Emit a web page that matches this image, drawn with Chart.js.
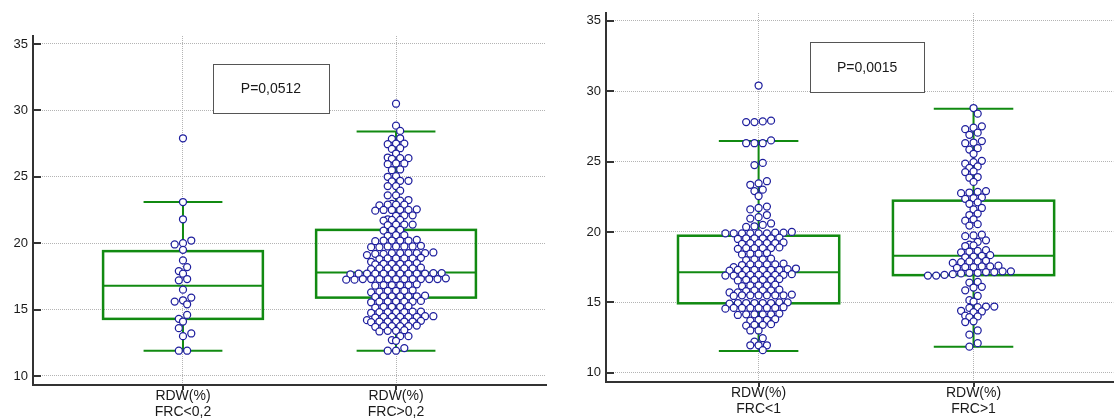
<!DOCTYPE html>
<html>
<head>
<meta charset="utf-8">
<script src="https://cdn.jsdelivr.net/npm/chart.js@4.4.1/dist/chart.umd.min.js"></script>
<style>
  html, body { margin: 0; padding: 0; background: #fff; }
  .panel { position: absolute; top: 0; height: 419px; }
  #leftPanel { left: 0; width: 556px; }
  #rightPanel { left: 560px; width: 558px; }
</style>
</head>
<body>
<div class="panel" id="leftPanel"><canvas id="leftChart" width="556" height="419"></canvas></div>
<div class="panel" id="rightPanel"><canvas id="rightChart" width="558" height="419"></canvas></div>
<script>
// ---- data ----
const yTicks = [10, 15, 20, 25, 30, 35];

const leftLabels = [["RDW(%)", "FRC<0,2"], ["RDW(%)", "FRC>0,2"]];
const rightLabels = [["RDW(%)", "FRC<1"], ["RDW(%)", "FRC>1"]];

const leftPValue = "P=0,0512";
const rightPValue = "P=0,0015";

// box plot stats per group: whisker low, Q1, median, Q3, whisker high
const leftLow = [11.9, 11.9];
const leftQ1 = [14.3, 15.9];
const leftMedian = [16.8, 17.8];
const leftQ3 = [19.4, 21.0];
const leftHigh = [23.1, 28.4];

const rightLow = [11.55, 11.85];
const rightQ1 = [14.93, 16.93];
const rightMedian = [17.13, 18.3];
const rightQ3 = [19.73, 22.22];
const rightHigh = [26.46, 28.75];

// individual observations (RDW %)
const frcUnder02 = [27.9, 23.1, 21.8, 20.2, 20.0, 19.9, 19.5, 18.7, 18.2, 17.9, 17.7, 17.3, 17.2,
  16.5, 15.9, 15.7, 15.6, 15.4, 14.6, 14.3, 14.1, 13.6, 13.2, 13.0, 11.9, 11.9];

const frcOver02 = [30.5, 28.85, 28.45, 27.9, 27.85, 27.5, 27.5, 27.45, 27.15, 27.1, 26.75,
  26.4, 26.4, 26.35, 26.45, 26.0, 26.0, 25.95, 25.55, 25.5, 25.05, 25.0, 24.7, 24.7, 24.65,
  24.3, 24.3, 23.95, 23.6, 23.6, 23.25, 23.2,
  22.9, 22.9, 22.85, 22.9, 22.95, 22.5, 22.5, 22.45, 22.5, 22.55, 22.5,
  22.1, 22.1, 22.05, 21.75, 21.75, 21.7, 21.8, 21.4, 21.4, 21.35, 21.4,
  21.0, 21.0, 20.95, 20.6, 20.6, 20.55, 20.2, 20.2, 20.25, 20.2, 20.15, 20.2,
  19.75, 19.75, 19.7, 19.75, 19.8, 19.75, 19.7,
  19.25, 19.25, 19.2, 19.25, 19.3, 19.25, 19.2, 19.25,
  18.85, 18.85, 18.8, 18.85, 18.9, 18.85, 18.6, 19.1,
  18.45, 18.45, 18.4, 18.5, 18.45, 18.45,
  18.1, 18.1, 18.05, 18.1, 18.15, 18.1, 18.1,
  17.7, 17.7, 17.7, 17.75, 17.7, 17.7, 17.7, 17.65, 17.7, 17.7, 17.75, 17.7,
  17.3, 17.3, 17.3, 17.25, 17.3, 17.3, 17.3, 17.3, 17.35, 17.3, 17.3, 17.25, 17.3,
  16.85, 16.85, 16.85, 16.8, 16.85, 16.9,
  16.4, 16.4, 16.35, 16.4, 16.45, 16.3,
  16.0, 16.0, 15.95, 16.0, 16.0, 16.05, 16.0,
  15.6, 15.6, 15.6, 15.55, 15.6, 15.65, 15.6,
  15.2, 15.2, 15.25, 15.2, 15.15,
  14.85, 14.8, 14.8, 14.85, 14.8, 14.8, 14.75,
  14.45, 14.45, 14.5, 14.45, 14.4, 14.45, 14.5, 14.45,
  14.1, 14.1, 14.15, 14.1, 14.1, 14.05, 14.1, 14.2,
  13.75, 13.75, 13.8, 13.75, 13.7, 13.75,
  13.4, 13.4, 13.45, 13.35,
  13.0, 13.0, 12.65, 12.7, 12.1, 11.9, 11.9];

const frcUnder1 = [30.4, 27.8, 27.8, 27.85, 27.9, 26.3, 26.3, 26.3, 26.5, 24.9, 24.75,
  23.6, 23.45, 23.35, 23.0, 22.9, 22.55, 21.8, 21.7, 21.6, 21.2, 21.05, 20.95,
  20.6, 20.5, 20.4, 20.35,
  19.9, 19.9, 19.9, 19.9, 19.95, 19.9, 19.9, 19.95, 20.0,
  19.55, 19.55, 19.5, 19.55, 19.6, 19.55,
  19.2, 19.2, 19.15, 19.2, 19.25, 19.2,
  18.85, 18.85, 18.8, 18.85, 18.9, 18.85,
  18.45, 18.4, 18.45, 18.5,
  18.05, 18.0, 18.05, 18.1,
  17.7, 17.7, 17.65, 17.7, 17.75, 17.7,
  17.3, 17.3, 17.3, 17.25, 17.3, 17.3, 17.35, 17.3, 17.4, 17.5,
  16.95, 16.95, 16.9, 16.95, 17.0, 16.95, 16.9, 16.95, 16.95,
  16.6, 16.6, 16.55, 16.6, 16.65, 16.6,
  16.2, 16.2, 16.15, 16.2, 16.25,
  15.85, 15.85, 15.8, 15.85, 15.9,
  15.5, 15.5, 15.5, 15.45, 15.5, 15.55, 15.5, 15.5, 15.7, 15.7,
  14.95, 14.95, 14.9, 14.95, 15.0, 14.95, 14.95, 15.0,
  14.6, 14.6, 14.55, 14.6, 14.6, 14.65, 14.6, 14.6,
  14.15, 14.15, 14.1, 14.15, 14.2, 14.15,
  13.75, 13.75, 13.7, 13.8,
  13.4, 13.4, 13.35, 13.45,
  13.0, 13.0, 12.45, 12.2, 11.95, 11.95, 11.95, 11.6];

const frcOver1 = [28.8, 28.4, 27.5, 27.4, 27.3, 27.05, 26.9, 26.45, 26.3, 26.35, 25.95, 25.85, 25.55,
  25.05, 24.95, 24.85, 24.65, 24.55, 24.3, 24.25, 23.9, 23.85, 23.55,
  22.85, 22.9, 22.75, 22.8, 22.45, 22.4, 22.35, 22.1, 22.0, 21.7, 21.6, 21.3, 21.2,
  20.9, 20.8, 20.55, 20.45, 19.75, 19.8, 19.7, 19.4, 19.3, 19.05, 19.0, 19.1,
  18.65, 18.6, 18.7, 18.55, 18.3, 18.25, 18.35, 18.2,
  17.9, 17.85, 17.95, 17.8, 17.9, 17.55, 17.5, 17.55, 17.6, 17.45, 17.5,
  17.2, 17.2, 17.15, 17.15, 17.1, 17.1, 17.05, 17.0, 16.95, 16.9, 16.9,
  16.45, 16.4, 16.1, 16.05, 15.85, 15.45, 15.15, 15.05,
  14.7, 14.65, 14.7, 14.6, 14.35, 14.3, 14.4, 14.0, 13.95, 14.05, 13.65, 13.6,
  13.0, 12.7, 12.1, 11.85];

// ---- styling ----
const FONT = "Arial, 'Liberation Sans', sans-serif";
const TEXT = "#1a1a1a";
const AXIS = "#333333";
const GRID = "#b4b4b4";
const GREEN = "#118a11";
const DOT = "#1f1f9e";
const ROW_H = 4.4;     // px, values closer than this share one row of dots
const DOT_STEP = 8.3;  // px between dots in a row
const BOX_HALF = 0.375;
const CAP_HALF = 0.185;

// place dots of one group in rows, each row centred on the category
function swarmPoints(values, category, xScale, yScale) {
  const pxPerUnit = xScale.getPixelForValue(2) - xScale.getPixelForValue(1);
  const pts = values.map(v => ({ v, py: yScale.getPixelForValue(v) })).sort((a, b) => a.py - b.py);
  const rows = [];
  pts.forEach(p => {
    const last = rows[rows.length - 1];
    if (last && p.py - last.start < ROW_H) last.items.push(p);
    else rows.push({ start: p.py, items: [p] });
  });
  const out = [];
  let prev = null, side = 1;
  rows.forEach(row => {
    const n = row.items.length;
    let phase = ((n - 1) / 2) % 1;
    let shift = 0;
    if (prev && row.start - prev.start < 7 && prev.phase === phase) {
      shift = 0.5 * side;
      side = -side;
      phase = (phase + 0.5) % 1;
    }
    row.phase = phase;
    row.items.sort((a, b) => a.v - b.v).forEach((p, k) => {
      const dx = (k - (n - 1) / 2 + shift) * DOT_STEP;
      out.push({ x: category + dx / pxPerUnit, y: p.v });
    });
    prev = row;
  });
  return out;
}

function boxPlugin(stats, pText, pBox) {
  return {
    id: "boxes",
    beforeDatasetsDraw(chart) {
      const { ctx, scales: { x, y } } = chart;
      ctx.save();
      ctx.strokeStyle = GREEN;
      stats.median.forEach((med, i) => {
        const c = i + 1;
        const xc = x.getPixelForValue(c);
        const bl = x.getPixelForValue(c - BOX_HALF), br = x.getPixelForValue(c + BOX_HALF);
        const cl = x.getPixelForValue(c - CAP_HALF), cr = x.getPixelForValue(c + CAP_HALF);
        const yLow = y.getPixelForValue(stats.low[i]);
        const yQ1 = y.getPixelForValue(stats.q1[i]);
        const yMed = y.getPixelForValue(med);
        const yQ3 = y.getPixelForValue(stats.q3[i]);
        const yHigh = y.getPixelForValue(stats.high[i]);

        ctx.lineWidth = 2;
        ctx.beginPath();
        ctx.moveTo(xc, yHigh); ctx.lineTo(xc, yQ3);
        ctx.moveTo(xc, yQ1); ctx.lineTo(xc, yLow);
        ctx.moveTo(cl, yHigh); ctx.lineTo(cr, yHigh);
        ctx.moveTo(cl, yLow); ctx.lineTo(cr, yLow);
        ctx.stroke();

        ctx.lineWidth = 2.5;
        ctx.strokeRect(bl, yQ3, br - bl, yQ1 - yQ3);

        ctx.lineWidth = 2;
        ctx.beginPath();
        ctx.moveTo(bl, yMed); ctx.lineTo(br, yMed);
        ctx.stroke();
      });
      ctx.restore();
    },
    afterDatasetsDraw(chart) {
      const { ctx, scales: { x, y } } = chart;
      const x1 = x.getPixelForValue(pBox[0]), x2 = x.getPixelForValue(pBox[1]);
      const y1 = y.getPixelForValue(pBox[3]), y2 = y.getPixelForValue(pBox[2]);
      ctx.save();
      ctx.fillStyle = "#fff";
      ctx.fillRect(x1, y1, x2 - x1, y2 - y1);
      ctx.strokeStyle = "#555";
      ctx.lineWidth = 1;
      ctx.strokeRect(Math.round(x1) + 0.5, Math.round(y1) + 0.5, Math.round(x2 - x1), Math.round(y2 - y1));
      ctx.fillStyle = TEXT;
      ctx.font = "14px " + FONT;
      ctx.textAlign = "center";
      ctx.textBaseline = "middle";
      ctx.fillText(pText, (x1 + x2) / 2, (y1 + y2) / 2 + 1);
      ctx.restore();
    },
    afterDraw(chart) {
      // short dark tick marks: inward on the y axis, outward on the x axis
      const { ctx, chartArea, scales: { x, y } } = chart;
      ctx.save();
      ctx.strokeStyle = AXIS;
      ctx.lineWidth = 2;
      ctx.beginPath();
      y.ticks.forEach(t => {
        const py = Math.round(y.getPixelForValue(t.value));
        ctx.moveTo(chartArea.left, py); ctx.lineTo(chartArea.left + 8, py);
      });
      x.ticks.forEach(t => {
        const px = Math.round(x.getPixelForValue(t.value));
        ctx.moveTo(px, chartArea.bottom); ctx.lineTo(px, chartArea.bottom + 5);
      });
      ctx.stroke();
      ctx.restore();
    }
  };
}

function buildChart(canvasId, groups, labels, stats, pText, geom) {
  const datasets = groups.map((vals, gi) => ({
    data: vals.map(v => ({ x: gi + 1, y: v })),
    pointRadius: 3.5,
    pointBorderWidth: 1.25,
    pointBorderColor: DOT,
    pointBackgroundColor: "#fff",
    pointHoverRadius: 3.5
  }));

  const chart = new Chart(document.getElementById(canvasId), {
    type: "scatter",
    data: { datasets },
    options: {
      responsive: false,
      animation: false,
      devicePixelRatio: 1,
      events: [],
      layout: { padding: { top: geom.padTop, right: geom.padRight, bottom: 0, left: 0 } },
      plugins: { legend: { display: false }, tooltip: { enabled: false } },
      scales: {
        x: {
          type: "linear",
          min: geom.xMin,
          max: geom.xMax,
          afterBuildTicks: ax => { ax.ticks = [1, 2].map(v => ({ value: v })); },
          afterFit: ax => { ax.height = geom.xHeight; },
          grid: { color: GRID, lineWidth: 1, drawTicks: false },
          border: { color: AXIS, width: 2, dash: [1, 1] },
          ticks: {
            callback: v => labels[v - 1],
            color: TEXT,
            font: { family: FONT, size: 14, lineHeight: 1.08 },
            padding: 4,
            maxRotation: 0,
            autoSkip: false
          }
        },
        y: {
          type: "linear",
          min: geom.yMin,
          max: geom.yMax,
          afterBuildTicks: ax => { ax.ticks = yTicks.map(v => ({ value: v })); },
          afterFit: ax => { ax.width = geom.yWidth; },
          grid: { color: GRID, lineWidth: 1, drawTicks: false },
          border: { color: AXIS, width: 2, dash: [1, 1] },
          ticks: { color: TEXT, font: { family: FONT, size: 13 }, padding: 5 }
        }
      }
    },
    plugins: [boxPlugin(stats, pText, geom.pBox)]
  });

  groups.forEach((vals, gi) => {
    chart.data.datasets[gi].data = swarmPoints(vals, gi + 1, chart.scales.x, chart.scales.y);
  });
  chart.update("none");
  return chart;
}

buildChart("leftChart", [frcUnder02, frcOver02], leftLabels,
  { low: leftLow, q1: leftQ1, median: leftMedian, q3: leftQ3, high: leftHigh }, leftPValue,
  { padTop: 36, padRight: 10, xHeight: 34, yWidth: 33, xMin: 0.296, xMax: 2.704, yMin: 9.32, yMax: 35.6,
    pBox: [1.141, 1.685, 29.8, 33.49] });

buildChart("rightChart", [frcUnder1, frcOver1], rightLabels,
  { low: rightLow, q1: rightQ1, median: rightMedian, q3: rightQ3, high: rightHigh }, rightPValue,
  { padTop: 13, padRight: 0, xHeight: 37, yWidth: 46, xMin: 0.29, xMax: 2.65, yMin: 9.34, yMax: 35.55,
    pBox: [1.24, 1.77, 29.94, 33.49] });
</script>
</body>
</html>
